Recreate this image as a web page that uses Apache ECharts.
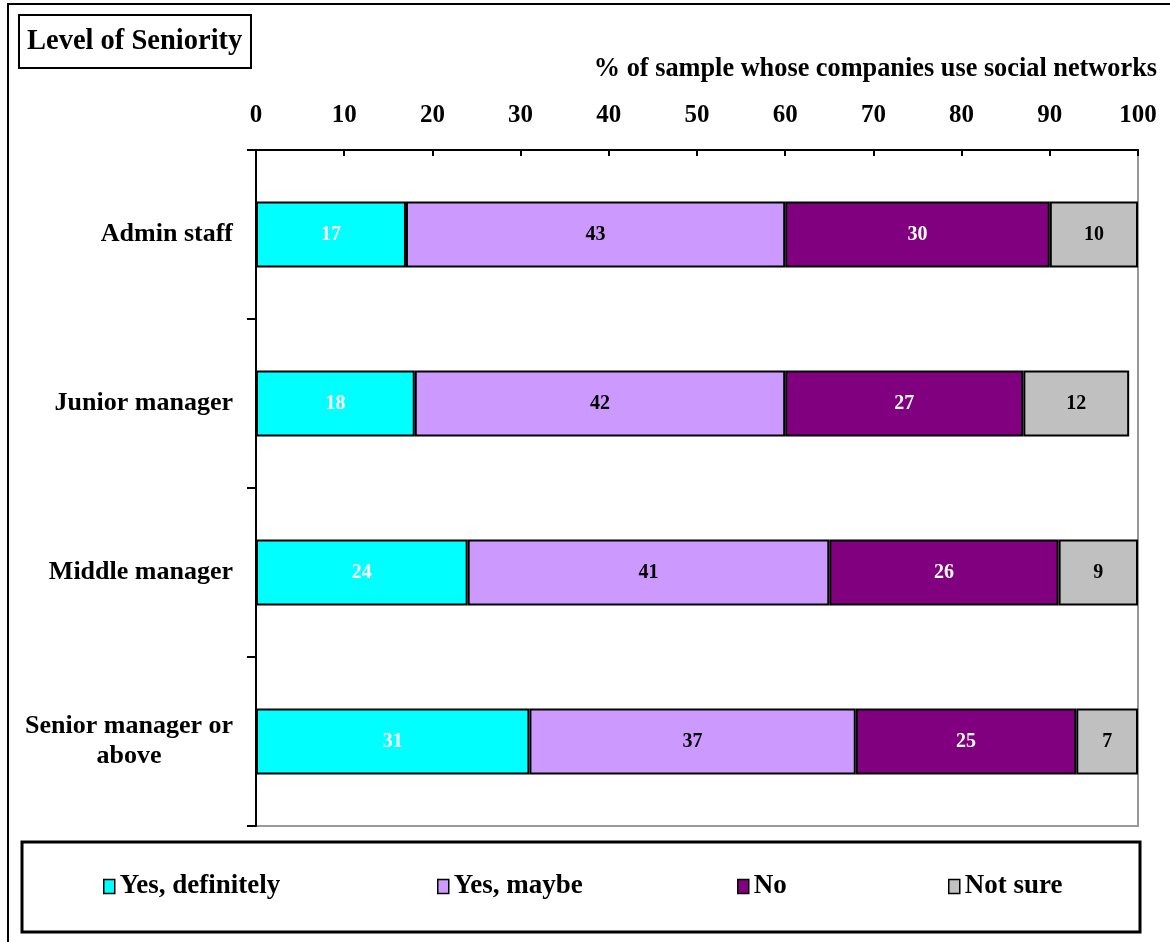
<!DOCTYPE html>
<html>
<head>
<meta charset="utf-8">
<script src="https://cdn.jsdelivr.net/npm/echarts@6/dist/echarts.min.js"></script>
<style>html,body{margin:0;padding:0;background:#fff}#c{width:1170px;height:942px}</style>
</head>
<body>
<div id="c"></div>
<script>
const categories = ['Admin staff', 'Junior manager', 'Middle manager', 'Senior manager or\nabove'];
const seriesNames = ['Yes, definitely', 'Yes, maybe', 'No', 'Not sure'];
const yesDefinitely = [17, 18, 24, 31];
const yesMaybe = [43, 42, 41, 37];
const no = [30, 27, 26, 25];
const notSure = [10, 12, 9, 7];
const xTicks = [0, 10, 20, 30, 40, 50, 60, 70, 80, 90, 100];

const FONT = '"Liberation Serif", "Times New Roman", serif';
const colors = ['#00FFFF', '#CC99FF', '#800080', '#C0C0C0'];
const labelColors = ['#FFFFFF', '#000000', '#FFFFFF', '#000000'];
const values = [yesDefinitely, yesMaybe, no, notSure];
const legendLefts = [103, 437, 737, 948];

const chart = echarts.init(document.getElementById('c'), null, {renderer: 'canvas'});
const option = {
  backgroundColor: '#fff',
  animation: false,
  textStyle: {fontFamily: FONT},
  title: [
    {
      text: 'Level of Seniority', left: 19, top: 15,
      borderColor: '#000', borderWidth: 2, padding: [10, 9, 10, 8],
      textStyle: {fontFamily: FONT, fontWeight: 'bold', fontSize: 28.5, color: '#000', lineHeight: 33}
    },
    {
      text: '% of sample whose companies use social networks', right: 13, top: 56,
      padding: 0,
      textStyle: {fontFamily: FONT, fontWeight: 'bold', fontSize: 26.3, color: '#000'}
    }
  ],
  graphic: [
    {type: 'rect', shape: {x: 8, y: 4, width: 1200, height: 1000}, style: {fill: null, stroke: '#000', lineWidth: 2}, z: 100, silent: true},
    {type: 'rect', shape: {x: 22, y: 842, width: 1118, height: 90}, style: {fill: null, stroke: '#000', lineWidth: 3}, z: 100, silent: true}
  ],
  legend: seriesNames.map((n, i) => ({
    data: [n], left: legendLefts[i], top: 873, padding: 0,
    itemWidth: 11, itemHeight: 14, selectedMode: false,
    icon: 'rect',
    itemStyle: {borderColor: '#000', borderWidth: 1.5},
    textStyle: {fontFamily: FONT, fontWeight: 'bold', fontSize: 27, color: '#000'}
  })),
  grid: {
    left: 256, right: 32, top: 150, bottom: 116,
    show: true, borderColor: '#999', borderWidth: 2, backgroundColor: '#fff'
  },
  xAxis: {
    type: 'value', position: 'top', min: 0, max: 100, interval: 10,
    axisLine: {show: true, lineStyle: {color: '#000', width: 2}},
    axisTick: {show: true, inside: true, length: 6, lineStyle: {color: '#000', width: 2}},
    splitLine: {show: false},
    axisLabel: {
      margin: 22, fontFamily: FONT, fontWeight: 'bold', fontSize: 25, color: '#000',
      formatter: v => xTicks.indexOf(v) >= 0 ? String(v) : ''
    }
  },
  yAxis: {
    type: 'category', data: categories, inverse: true,
    axisLine: {show: true, lineStyle: {color: '#000', width: 2}},
    axisTick: {show: true, inside: false, length: 9, lineStyle: {color: '#000', width: 2}},
    axisLabel: {
      margin: 23, fontFamily: FONT, fontWeight: 'bold', fontSize: 26, color: '#000',
      lineHeight: 30,
      formatter: v => {
        const parts = v.split('\n');
        if (parts.length === 1) return v;
        return parts[0] + '\n{c|' + parts[1] + '}';
      },
      rich: {c: {align: 'center', fontFamily: FONT, fontWeight: 'bold', fontSize: 26, color: '#000', lineHeight: 30}}
    }
  },
  series: seriesNames.map((n, i) => ({
    name: n, type: 'bar', stack: 'total', data: values[i],
    barWidth: 66,
    itemStyle: {color: colors[i], borderColor: '#000', borderWidth: 2},
    label: {
      show: true, position: 'inside',
      fontFamily: FONT, fontWeight: 'bold', fontSize: 20, color: labelColors[i]
    }
  }))
};
chart.setOption(option);
</script>
</body>
</html>
